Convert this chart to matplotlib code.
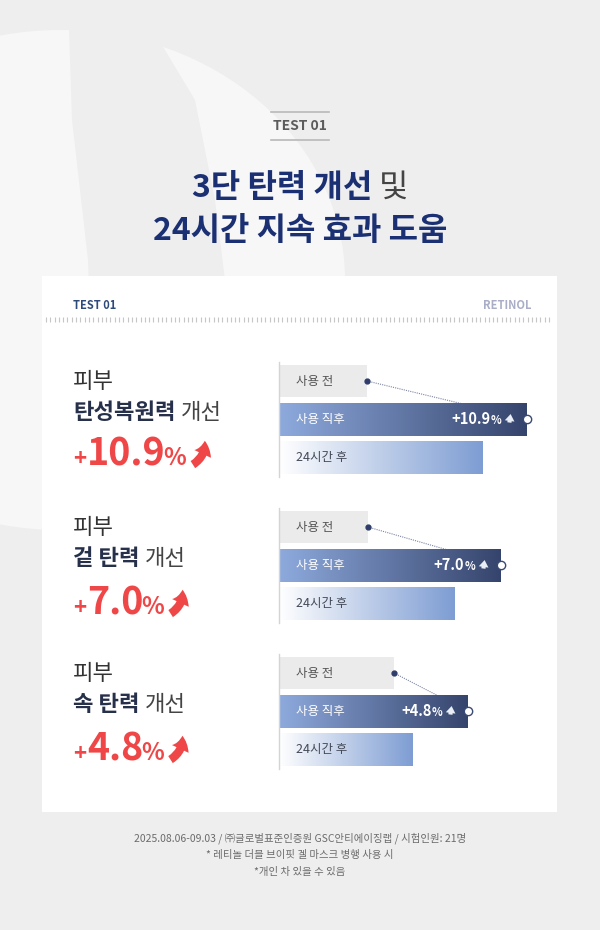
import matplotlib

matplotlib.use("Agg")
import matplotlib.patches as mpatches
import matplotlib.pyplot as plt
import numpy as np
from matplotlib.colors import LinearSegmentedColormap

plt.rcParams["font.family"] = ["Noto Sans CJK KR", "DejaVu Sans"]

W, H = 600, 930

# data (bar lengths on a 0-100 scale)
sections = ["탄성복원력", "겉 탄력", "속 탄력"]
improvement = [10.9, 7.0, 4.8]
stages = ["사용 전", "사용 직후", "24시간 후"]
before = [35.2, 35.6, 46.0]
right_after = [99.2, 88.8, 75.6]
after_24h = [81.6, 70.4, 53.6]

footer = [
    "2025.08.06-09.03 / ㈜글로벌표준인증원 GSC안티에이징랩 / 시험인원: 21명",
    "* 레티놀 더블 브이핏 겔 마스크 병행 사용 시",
    "*개인 차 있을 수 있음",
]

NAVY = "#1b3073"
RED = "#ef4747"
BG = "#eeeeee"

fig = plt.figure(figsize=(W / 100, H / 100), dpi=100)
fig.patch.set_facecolor(BG)
bg = fig.add_axes([0, 0, 1, 1])
# overlay for the labels that sit on top of the bar axes
ov = fig.add_axes([0, 0, 1, 1], zorder=10)
for a in (bg, ov):
    a.set_xlim(0, W)
    a.set_ylim(H, 0)
    a.axis("off")
ov.set_facecolor("none")
renderer = fig.canvas.get_renderer()


def runs(ax, x, y, parts, ha="left", zorder=5):
    """parts: (text, size, weight, color, gap_after) drawn on one baseline."""
    objs = []
    for s, size, weight, color, gap in parts:
        t = ax.text(0, y, s, fontsize=size, fontweight=weight, color=color,
                    va="baseline", zorder=zorder)
        objs.append((t, t.get_window_extent(renderer).width, gap))
    total = sum(w + g for _, w, g in objs) - objs[-1][2]
    x0 = {"left": x, "center": x - total / 2, "right": x - total}[ha]
    for t, w, g in objs:
        t.set_x(x0)
        x0 += w + g
    return x0 - objs[-1][2]


# background letter shape
bg.add_patch(mpatches.Ellipse((60, 280), 570, 500, facecolor="#f7f7f7", edgecolor="none", zorder=0))
bg.add_patch(mpatches.Polygon(
    [(68, 0), (72, 120), (88, 260), (100, 600), (230, 600), (225, 280),
     (215, 200), (195, 100), (150, 25), (140, 0)],
    facecolor=BG, edgecolor="none", zorder=0.5))

# header
bg.plot([271, 329], [112, 112], color="#b8b8b8", lw=1.2)
bg.plot([271, 329], [140, 140], color="#b8b8b8", lw=1.2)
bg.text(300, 126, "TEST 01", ha="center", va="center", fontsize=10,
        fontweight="bold", color="#5c5c5c")
runs(bg, 300, 197, [("3단 탄력 개선", 23, "bold", NAVY, 6), ("및", 23, "normal", "#444444", 0)],
     ha="center")
runs(bg, 300, 240, [("24시간 지속 효과 도움", 23, "bold", NAVY, 0)], ha="center")

# card
bg.add_patch(mpatches.Rectangle((42, 276), 515, 536, facecolor="white", edgecolor="none", zorder=1))
bg.text(73, 305, "TEST 01", va="center", fontsize=8, fontweight="bold", color="#2d4a7a", zorder=5)
bg.text(531, 305, "RETINOL", ha="right", va="center", fontsize=8, fontweight="bold",
        color="#a9aec6", zorder=5)
bg.vlines(np.arange(46, 552, 4.3), 317.5, 322.5, color="#c6c6c6", lw=0.8, zorder=2)

cmap_after = LinearSegmentedColormap.from_list("after", ["#8eaadd", "#35446c"])
cmap_24h = LinearSegmentedColormap.from_list("h24", ["#ffffff", "#7e9dd3"])
grad = np.linspace(0, 1, 256)[None, :]

pitch = 38.3
for i, name in enumerate(sections):
    c0 = 381 + 146 * i
    dy = 146 * i

    # left text block
    runs(bg, 73, 388 + dy, [("피부", 16, "normal", "#333333", 0)])
    runs(bg, 73, 419 + dy, [(name, 16, "bold", "#27304a", 5), ("개선", 16, "normal", "#444444", 0)])
    base = 465 + dy + (3 if i else 0)
    xe = runs(bg, 73, base, [
        ("+", 16, "bold", RED, 1),
        (f"{improvement[i]:.1f}", 27, "bold", RED, -2),
        ("%", 17, "bold", RED, 0),
    ])
    bg.add_patch(mpatches.FancyArrowPatch(
        (xe + 4, base + 1), (xe + 18, base - 27),
        arrowstyle="simple,head_width=1.1,head_length=0.8,tail_width=0.5",
        connectionstyle="arc3,rad=0.35", mutation_scale=12, color=RED, lw=0, zorder=5))

    # bars
    top = c0 - pitch / 2
    ax = fig.add_axes([279 / W, 1 - (top + 3 * pitch) / H, 250 / W, 3 * pitch / H])
    ax.set_facecolor("none")
    vals = [before[i], right_after[i], after_24h[i]]
    bars = ax.barh([0, 1, 2], vals, height=0.86, color=["#ebebeb", "#5a6c98", "#b8c9ea"],
                   zorder=2)
    for j, cmap in ((1, cmap_after), (2, cmap_24h)):
        im = ax.imshow(grad, cmap=cmap, aspect="auto", zorder=2.1,
                       extent=(0, vals[j], j + 0.43, j - 0.43))
        im.set_clip_path(bars[j])
    ax.set_xlim(0, 100)
    ax.set_ylim(2.5, -0.5)
    for s in ("top", "right", "bottom"):
        ax.spines[s].set_visible(False)
    ax.spines["left"].set_color("#d4d4d4")
    ax.spines["left"].set_linewidth(1)
    ax.set_xticks([])
    ax.set_yticks([])

    ax.plot([vals[0], vals[1]], [0, 1], ls=(0, (1, 1)), color="#7d86a3", lw=0.8, zorder=1)
    ax.plot(vals[0], 0, "o", ms=3.5, color="#2e3d6b", zorder=4, clip_on=False)
    ax.plot(vals[1], 1, "o", ms=6, mfc="white", mec="#3b4a74", mew=1, zorder=4, clip_on=False)

    for j, (lab, col, wt) in enumerate(zip(stages, ["#555555", "white", "#454a58"],
                                           ["normal", "medium", "medium"])):
        ax.annotate(lab, xy=(0, j), xytext=(12, 0), textcoords="offset points",
                    va="center", fontsize=9, color=col, fontweight=wt, zorder=5)

    # value inside the 사용 직후 bar
    px, py = ov.transData.inverted().transform(ax.transData.transform((vals[1], 1)))
    runs(ov, px - 26, py + 5, [(f"+{improvement[i]:.1f}", 10.5, "bold", "white", 0),
                               ("%", 8, "bold", "white", 0)], ha="right", zorder=6)
    ov.add_patch(mpatches.FancyArrowPatch(
        (px - 18, py + 6), (px - 16, py - 8),
        arrowstyle="simple,head_width=1.4,head_length=1.0,tail_width=0.6",
        mutation_scale=5, color="#e9edf6", lw=0, zorder=6))

for k, line in enumerate(footer):
    bg.text(300, 838 + 17 * k, line, ha="center", va="center", fontsize=7.5, color="#6b6b6b")

fig.savefig("out.png", dpi=100, facecolor=BG)
